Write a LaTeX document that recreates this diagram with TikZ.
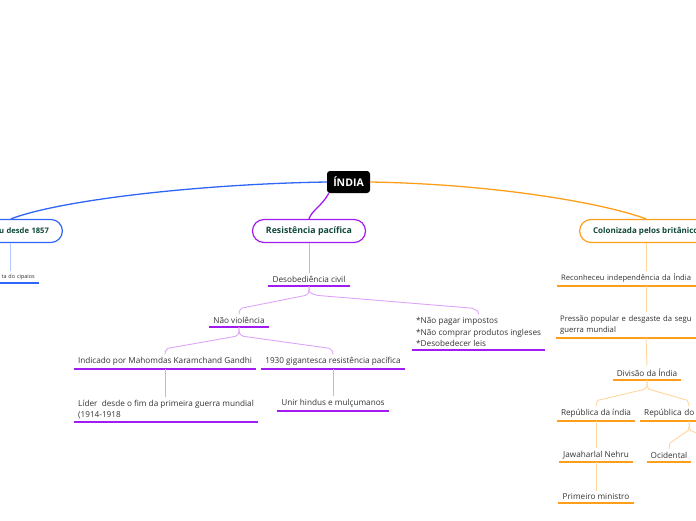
\documentclass[tikz,border=0pt]{standalone}
\usepackage{fontspec}
\setmainfont{Open Sans}
\usepackage{tikz}
\usetikzlibrary{calc}
\definecolor{mmblue}{HTML}{2F66F8}
\definecolor{mmbluelight}{HTML}{B3C8FF}
\definecolor{mmpurple}{HTML}{A21CF2}
\definecolor{mmpurplelight}{HTML}{DDA5FA}
\definecolor{mmorange}{HTML}{FF9E1B}
\definecolor{mmorangelight}{HTML}{FFD69C}
\definecolor{topicgreen}{HTML}{10483A}
\definecolor{leafgray}{HTML}{333333}
\tikzset{
  rootnode/.style={fill=black,text=white,rounded corners=3pt,minimum height=22pt,minimum width=43pt,inner xsep=2pt,font=\fontsize{10.5}{12}\selectfont\bfseries},
  topicnode/.style={draw=#1,fill=white,line width=1.2pt,rounded corners=11.5pt,minimum height=23pt,inner xsep=13.5pt,text=topicgreen,font=\fontsize{8.8}{10}\selectfont\bfseries},
  leafnode/.style={anchor=south,inner xsep=4pt,inner ysep=3pt,text=leafgray,font=\fontsize{8.2}{11.5}\selectfont,
    append after command={(\tikzlastnode.south west) edge[draw=#1,line width=1.6pt] (\tikzlastnode.south east)}},
  mainline/.style={draw=#1,line width=1.3pt},
  stemline/.style={draw=#1,line width=0.9pt},
  branch/.style={stemline=#1,to path={.. controls ($(\tikztostart)+(0,7)$) .. ($(\tikztostart)!0.05!(\tikztotarget)+(0,8)$) -- ($(\tikztostart)!0.96!(\tikztotarget)+(0,-5)$) .. controls ($(\tikztotarget)+(0,-3)$) .. (\tikztotarget)}},
}
\begin{document}
\begin{tikzpicture}[x=1pt,y=-1pt]
  \path[use as bounding box,clip] (0,0) rectangle (696,520);
  % centro e topicos
  \node[rootnode] (nIndia) at (348.5,182) {ÍNDIA};
  \node[topicnode=mmblue,anchor=east,text width=76pt,align=right,font=\fontsize{7.6}{10}\selectfont\bfseries] (nDominio) at (63,231) {u desde 1857};
  \node[topicnode=mmpurple] (nResist) at (309,231) {Resistência pacífica};
  \node[topicnode=mmorange,anchor=west,font=\fontsize{8}{10}\selectfont\bfseries] (nColon) at (579,231) {\makebox[106pt][l]{Colonizada pelos britânico}};
  \draw[mainline=mmblue] (nIndia.west) .. controls (200,184) and (60,200) .. (nDominio.north);
  \draw[mainline=mmpurple] ([xshift=2pt]nIndia.south west) .. controls (322,206) and (312,210) .. (nResist.north);
  \draw[mainline=mmorange] (nIndia.east) .. controls (490,184) and (600,202) .. (nColon.north);
  % ramo azul
  \node[leafnode=mmblue,anchor=south east,text width=50pt,align=right,font=\fontsize{5.5}{7}\selectfont] (nCipaios) at (39,283) {ta do cipaios};
  \draw[stemline=mmbluelight] (nDominio.south) -- (nDominio.south |- nCipaios.north);
  % ramo roxo
  \node[leafnode=mmpurple] (nDeso) at (309,286) {Desobediência civil};
  \node[leafnode=mmpurple] (nNaoViol) at (239,327) {Não violência};
  \node[leafnode=mmpurple,anchor=south west,align=left] (nBoicote) at (412,350) {*Não pagar impostos\\*Não comprar produtos ingleses\\*Desobedecer leis};
  \node[leafnode=mmpurple] (nGandhi) at (165,369) {Indicado por Mahomdas Karamchand Gandhi};
  \node[leafnode=mmpurple] (n1930) at (333,369) {1930 gigantesca resistência pacífica};
  \node[leafnode=mmpurple,anchor=south west,align=left] (nLider) at (74,422) {Líder\ \ desde o fim da primeira guerra mundial\\(1914-1918};
  \node[leafnode=mmpurple] (nUnir) at (333,411) {Unir hindus e mulçumanos};
  \draw[stemline=mmpurplelight] (nResist.south) -- (nDeso.north);
  \draw[branch=mmpurplelight] (nDeso.south) to (nNaoViol.north);
  \draw[branch=mmpurplelight] (nDeso.south) to (nBoicote.north);
  \draw[branch=mmpurplelight] (nNaoViol.south) to (nGandhi.north);
  \draw[branch=mmpurplelight] (nNaoViol.south) to (n1930.north);
  \draw[stemline=mmpurplelight] (nGandhi.south) -- (nGandhi.south |- nLider.north);
  \draw[stemline=mmpurplelight] (n1930.south) -- (nUnir.north);
  % ramo laranja
  \node[leafnode=mmorange,anchor=south west,text width=172pt,align=left,font=\fontsize{7.6}{11.5}\selectfont] (nRecon) at (557,286) {Reconheceu independência da Índia};
  \node[leafnode=mmorange,anchor=south west,text width=172pt,align=left,font=\fontsize{7.7}{11.5}\selectfont] (nPressao) at (556,338) {Pressão popular e desgaste da segu\\guerra mundial};
  \node[leafnode=mmorange] (nDivisao) at (647,380) {Divisão da Índia};
  \node[leafnode=mmorange] (nRepInd) at (596,421) {República da índia};
  \node[leafnode=mmorange,anchor=south west,text width=90pt,align=left] (nRepDo) at (640,421) {República do};
  \node[leafnode=mmorange] (nNehru) at (596,462) {Jawaharlal Nehru};
  \node[leafnode=mmorange] (nOcid) at (669,462) {Ocidental};
  \node[leafnode=mmorange] (nPrimeiro) at (596,503) {Primeiro ministro};
  \coordinate (cOriental) at (712,446);
  \draw[stemline=mmorangelight] (nColon.south) -- (nColon.south |- nRecon.north);
  \draw[stemline=mmorangelight] (nColon.south |- nRecon.south) -- (nColon.south |- nPressao.north);
  \draw[stemline=mmorangelight] (nColon.south |- nPressao.south) -- (nDivisao.north);
  \draw[branch=mmorangelight] (nDivisao.south) to (nRepInd.north);
  \draw[branch=mmorangelight] (nDivisao.south) to (nRepDo.north);
  \draw[stemline=mmorangelight] (nRepInd.south) -- (nNehru.north);
  \draw[branch=mmorangelight] (nRepDo.south) to (nOcid.north);
  \draw[branch=mmorangelight] (nRepDo.south) to (cOriental);
  \draw[stemline=mmorangelight] (nNehru.south) -- (nPrimeiro.north);
\end{tikzpicture}
\end{document}
